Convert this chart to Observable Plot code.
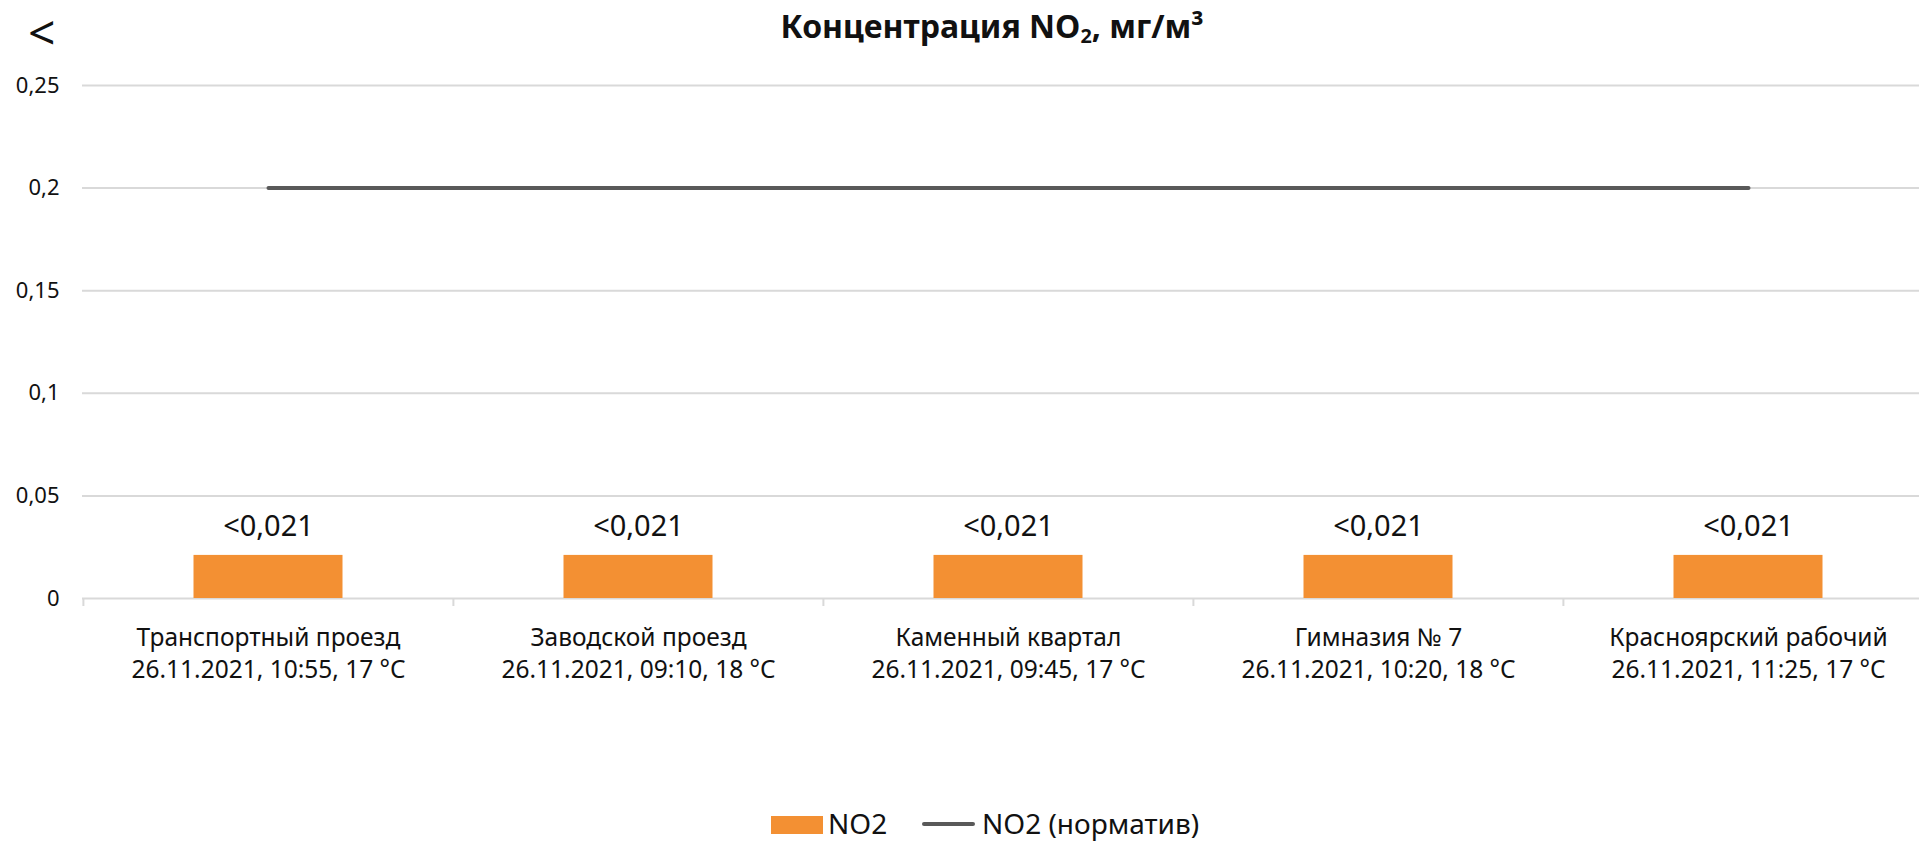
<!DOCTYPE html>
<html>
<head>
<meta charset="utf-8">
<script src="https://cdn.jsdelivr.net/npm/d3@7"></script>
<script src="https://cdn.jsdelivr.net/npm/@observablehq/plot@0.6"></script>
<style>
  html, body { margin: 0; padding: 0; background: #fff; overflow: hidden; }
  #page { position: relative; width: 1919px; height: 841px; overflow: hidden; font-family: "Noto Sans", sans-serif; color: #111; }
  #back { position: absolute; left: 28px; top: 4px; font-size: 48px; line-height: 56px; font-weight: 400; }
  #title { position: absolute; left: 992px; top: 8px; transform: translateX(-50%); white-space: nowrap;
           font-size: 32px; line-height: 36px; font-weight: 700; }
  #title sub { font-size: 0.62em; vertical-align: -0.25em; line-height: 0; }
  #chart { position: absolute; left: 0; top: 0; }
  .leg { position: absolute; white-space: nowrap; font-size: 28px; line-height: 28px; }
</style>
</head>
<body>
<div id="page">
  <div id="chart"></div>
  <div id="back">&lt;</div>
  <div id="title">Концентрация NO<sub>2</sub>, мг/м³</div>
  <div id="legend"></div>
</div>
<script>
// ---- data ----
const categories = ["Транспортный проезд", "Заводской проезд", "Каменный квартал", "Гимназия № 7", "Красноярский рабочий"];
const dates = ["26.11.2021, 10:55, 17 °C", "26.11.2021, 09:10, 18 °C", "26.11.2021, 09:45, 17 °C", "26.11.2021, 10:20, 18 °C", "26.11.2021, 11:25, 17 °C"];
const no2 = [0.021, 0.021, 0.021, 0.021, 0.021];
const no2Labels = ["<0,021", "<0,021", "<0,021", "<0,021", "<0,021"];
const norm = [0.2, 0.2, 0.2, 0.2, 0.2];
const yTicks = [0, 0.05, 0.1, 0.15, 0.2, 0.25];
const yTickLabels = ["0", "0,05", "0,1", "0,15", "0,2", "0,25"];
const seriesNames = ["NO2", "NO2 (норматив)"];

const barColor = "#f39033";
const lineColor = "#595959";
const gridColor = "#d9d9d9";

const rows = categories.map((c, i) => ({cat: c, date: dates[i], v: no2[i], label: no2Labels[i], norm: norm[i]}));
const dateOf = Object.fromEntries(categories.map((c, i) => [c, dates[i]]));

const chart = Plot.plot({
  width: 1919,
  height: 700,
  marginLeft: 82,
  marginRight: 0,
  marginTop: 85,
  marginBottom: 102,
  style: {fontFamily: "Noto Sans, sans-serif", color: "#111", background: "transparent", overflow: "hidden"},
  x: {type: "band", domain: categories, range: [82, 1933], padding: 0, label: null},
  y: {domain: [0, 0.25], label: null},
  marks: [
    Plot.ruleY(yTicks, {stroke: gridColor, strokeWidth: 2}),
    Plot.axisX({tickSize: 8, dx: -185.1, tickFormat: () => "", label: null, stroke: gridColor, strokeWidth: 2}),
    Plot.axisX({tickSize: 0, tickPadding: 25, fontSize: 24.5, lineHeight: 1.3, label: null,
                tickFormat: d => d + "\n" + dateOf[d]}),
    Plot.axisY({ticks: yTicks, tickSize: 0, tickPadding: 23, fontSize: 22, label: null,
                tickFormat: d => yTickLabels[yTicks.indexOf(d)]}),
    Plot.barY(rows, {x: "cat", y: "v", fill: barColor, insetLeft: 110.5, insetRight: 110.5}),
    Plot.lineY(rows, {x: "cat", y: "norm", stroke: lineColor, strokeWidth: 4}),
    Plot.text(rows, {x: "cat", y: "v", text: "label", lineAnchor: "bottom", dy: -19, fontSize: 29, fill: "#111"})
  ]
});
document.getElementById("chart").appendChild(chart);

// ---- legend ----
const legend = document.getElementById("legend");
legend.innerHTML = `
  <div style="position:absolute;left:771px;top:816px;width:52px;height:18px;background:${barColor}"></div>
  <div class="leg" style="left:828px;top:809px">${seriesNames[0]}</div>
  <div style="position:absolute;left:922px;top:822px;width:53px;height:4px;border-radius:2px;background:${lineColor}"></div>
  <div class="leg" style="left:982px;top:809px">${seriesNames[1]}</div>`;
</script>
</body>
</html>
